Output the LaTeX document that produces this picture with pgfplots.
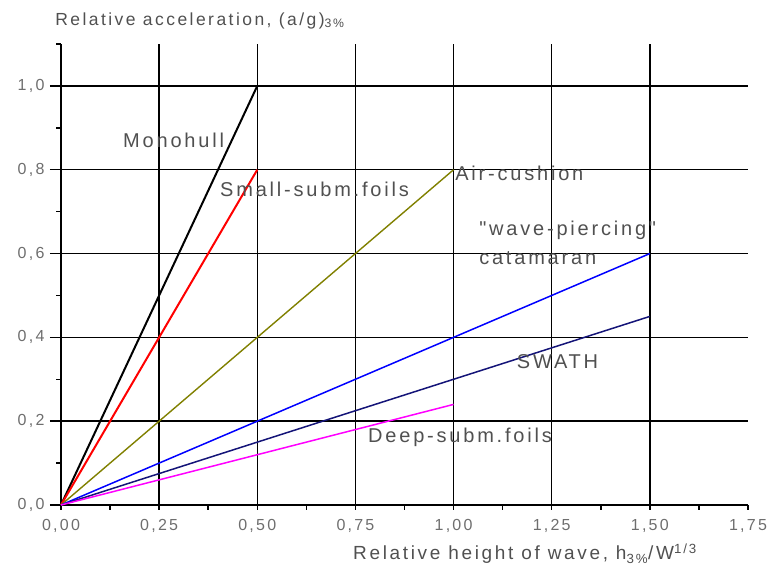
\documentclass[border=0pt]{standalone}
\usepackage{pgfplots}
\pgfplotsset{compat=1.18}
\usepackage{fontspec}
\setmainfont{Liberation Sans}[LetterSpace=14]
\newfontfamily\plainsans{Liberation Sans}[LetterSpace=14]
\definecolor{olivec}{RGB}{128,128,0}
\definecolor{navyc}{RGB}{20,20,120}
\definecolor{magc}{RGB}{255,0,255}
\definecolor{txt}{RGB}{80,80,80}
\definecolor{tick}{RGB}{110,110,110}
\newcommand{\lbl}{\fontsize{20}{22}\selectfont\color{txt}}
\begin{document}
\begin{tikzpicture}
\begin{axis}[
  at={(61pt,62pt)}, anchor=south west,
  scale only axis, width=687pt, height=461pt,
  xmin=0, xmax=1.75, ymin=0, ymax=1.1,
  axis lines=left, axis line style={-, line width=1.5pt},
  clip=false,
  tick align=outside,
  xtick={0,0.25,...,1.75},
  minor xtick={0.125,0.375,...,1.7},
  ytick={0,0.2,...,1.0},
  minor ytick={0.1,0.3,...,1.15},
  major tick length=5pt, minor tick length=5pt,
  every tick/.style={black, line width=1.5pt},
  extra x ticks={0.25,0.5,...,1.5},
  extra x tick labels={},
  extra x tick style={grid=major},
  extra y ticks={0,0.2,...,1.0},
  extra y tick labels={},
  extra y tick style={grid=major, major tick length=11pt},
  major grid style={black, line width=1.5pt},
  /pgf/number format/assume math mode=true,
  /pgf/number format/use comma,
  /pgf/number format/fixed,
  /pgf/number format/fixed zerofill,
  xticklabel style={/pgf/number format/precision=2, yshift=-6pt},
  yticklabel style={/pgf/number format/precision=1, xshift=-8pt},
  ticklabel style={font=\fontsize{16}{19}\selectfont, text=tick},
]
\addplot[black, line width=2pt] coordinates {(0,0) (0.5,1.0)};
\addplot[red, line width=2pt] coordinates {(0,0) (0.5,0.8)};
\addplot[olivec, line width=1.4pt] coordinates {(0,0) (1.0,0.8)};
\addplot[blue, line width=1.5pt] coordinates {(0,0) (1.5,0.6)};
\addplot[navyc, line width=1.5pt] coordinates {(0,0) (1.5,0.45)};
\addplot[magc, line width=1.5pt] coordinates {(0,0) (1.0,0.24)};

\node[anchor=west, inner sep=0pt] at (axis cs:0.158,0.871) {\lbl Monohull};
\node[anchor=west, inner sep=0pt] at (axis cs:0.405,0.752) {\lbl Small-subm.foils};
\node[anchor=west, inner sep=0pt] at (axis cs:1.004,0.792) {\lbl Air-cushion};
\node[anchor=west, inner sep=0pt] at (axis cs:1.065,0.656) {\lbl\plainsans "wave-piercing"};
\node[anchor=west, inner sep=0pt] at (axis cs:1.065,0.590) {\lbl catamaran};
\node[anchor=west, inner sep=0pt] at (axis cs:1.161,0.341) {\lbl SWATH};
\node[anchor=west, inner sep=0pt] at (axis cs:0.782,0.162) {\lbl Deep-subm.foils};

\node[anchor=base west, inner sep=0pt] at (axis cs:-0.015,1.145)
  {\fontsize{17.5}{20}\selectfont\color{txt}Relative acceleration, (a/g)\textsubscript{3\%}};
\node[anchor=base east, inner sep=0pt] at (axis cs:1.620,-0.131)
  {\fontsize{19}{22}\selectfont\color{txt}Relative height of wave, h\textsubscript{3\%}/W\textsuperscript{1/3}};
\end{axis}
\pgfresetboundingbox
\path (0,0) rectangle (771pt,567pt);
\end{tikzpicture}
\end{document}
